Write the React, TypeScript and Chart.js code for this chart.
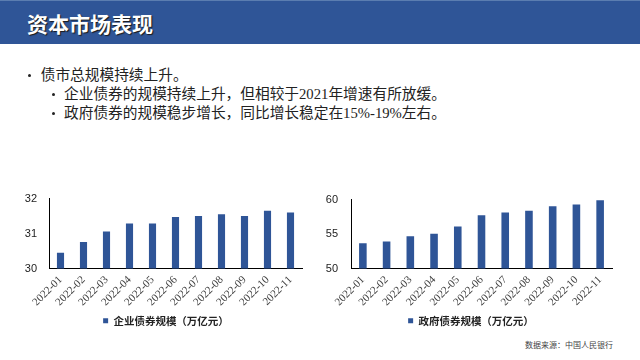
import React, { useEffect, useRef } from "react";
import { Chart, registerables } from "chart.js";

Chart.register(...registerables);

const months = ["2022-01", "2022-02", "2022-03", "2022-04", "2022-05", "2022-06", "2022-07", "2022-08", "2022-09", "2022-10", "2022-11"];
const corpBonds = [30.45, 30.76, 31.06, 31.29, 31.29, 31.47, 31.5, 31.55, 31.5, 31.65, 31.6];
const govBonds = [53.66, 53.91, 54.68, 55.06, 56.09, 57.74, 58.13, 58.38, 59.02, 59.28, 59.91];
const corpLabel = "企业债券规模（万亿元）";
const govLabel = "政府债券规模（万亿元）";
const corpTicks = [30, 31, 32];
const govTicks = [50, 55, 60];

const BAR = "#2F5597";
const CJK = '"Noto Sans CJK SC", sans-serif';

type BarProps = {
  labels: string[];
  values: number[];
  label: string;
  ticks: number[];
  padRight: number;
  yWidth: number;
  yPad: number;
  barPct: number;
  legendShift: number;
};

function BarChart(p: BarProps) {
  const ref = useRef<HTMLCanvasElement | null>(null);
  useEffect(() => {
    if (!ref.current) return;
    const shiftLegend = {
      id: "shiftLegend",
      afterLayout(chart: any) {
        const l = chart.legend;
        if (l) {
          l.left += p.legendShift;
          l.right += p.legendShift;
        }
      },
    };
    const chart = new Chart(ref.current, {
      type: "bar",
      data: {
        labels: p.labels,
        datasets: [
          {
            label: p.label,
            data: p.values,
            backgroundColor: BAR,
            borderWidth: 0,
            barPercentage: p.barPct,
            categoryPercentage: 1,
          },
        ],
      },
      plugins: [shiftLegend],
      options: {
        responsive: false,
        animation: false,
        devicePixelRatio: 1,
        layout: { padding: { left: 0, right: p.padRight, top: 9, bottom: 0 } },
        plugins: {
          tooltip: { enabled: false },
          legend: {
            position: "bottom",
            labels: {
              boxWidth: 5,
              boxHeight: 5,
              padding: 10,
              color: "#222",
              font: { family: CJK, size: 10.5, weight: "bold" },
            },
          },
        },
        scales: {
          x: {
            grid: { display: false, drawTicks: false },
            border: { display: true, color: "#000", width: 1 },
            ticks: {
              autoSkip: false,
              minRotation: 45,
              maxRotation: 45,
              padding: 5,
              color: "#404040",
              font: { family: '"Liberation Serif", serif', size: 11 },
            },
            afterFit: (s: any) => {
              s.height = 37;
            },
          },
          y: {
            min: p.ticks[0],
            max: p.ticks[p.ticks.length - 1],
            grid: { display: false, drawTicks: false },
            border: { display: true, color: "#000", width: 1 },
            ticks: {
              stepSize: p.ticks[1] - p.ticks[0],
              padding: p.yPad,
              color: "#222",
              font: { family: '"Liberation Sans", sans-serif', size: 11 },
            },
            afterFit: (s: any) => {
              s.width = p.yWidth;
            },
          },
        },
      },
    });
    return () => chart.destroy();
  }, []);
  return <canvas ref={ref} width={320} height={156} style={{ display: "block", width: 320, height: 156 }} />;
}

export default function App() {
  const bulletText: React.CSSProperties = {
    position: "absolute",
    fontFamily: '"Liberation Serif", "Noto Sans CJK SC", serif',
    fontSize: 14.7,
    lineHeight: "19px",
    color: "#222",
    whiteSpace: "nowrap",
  };
  const dot: React.CSSProperties = {
    position: "absolute",
    width: 3,
    height: 3,
    borderRadius: 2,
    background: "#222",
  };
  return (
    <div style={{ position: "absolute", left: 0, top: 0, width: 640, height: 360, background: "#fff", overflow: "hidden" }}>
      <div
        style={{
          position: "absolute",
          left: 0,
          top: 0,
          width: 640,
          height: 44,
          background: "#2F5597",
          borderTop: "1px solid #5B7DB0",
          boxSizing: "border-box",
        }}
      />
      <div
        style={{
          position: "absolute",
          left: 27,
          top: 9,
          fontFamily: CJK,
          fontWeight: "bold",
          fontSize: 21,
          lineHeight: "28px",
          color: "#fff",
          textShadow: "1px 1px 1px #1a1a1a",
          whiteSpace: "nowrap",
        }}
      >
        资本市场表现
      </div>

      <div style={{ ...dot, left: 28, top: 74 }} />
      <div style={{ ...bulletText, left: 40.7, top: 65.5 }}>债市总规模持续上升。</div>
      <div style={{ ...dot, left: 52, top: 93 }} />
      <div style={{ ...bulletText, left: 64, top: 84.5 }}>企业债券的规模持续上升，但相较于2021年增速有所放缓。</div>
      <div style={{ ...dot, left: 52, top: 112 }} />
      <div style={{ ...bulletText, left: 64, top: 103.5 }}>政府债券的规模稳步增长，同比增长稳定在15%-19%左右。</div>

      <div style={{ position: "absolute", left: 0, top: 180 }}>
        <BarChart labels={months} values={corpBonds} label={corpLabel} ticks={corpTicks} padRight={18} yWidth={49} yPad={12} barPct={0.31} legendShift={15} />
      </div>
      <div style={{ position: "absolute", left: 320, top: 180 }}>
        <BarChart labels={months} values={govBonds} label={govLabel} ticks={govTicks} padRight={28} yWidth={31} yPad={13} barPct={0.32} legendShift={5} />
      </div>

      <div
        style={{
          position: "absolute",
          left: 525,
          top: 339,
          fontFamily: CJK,
          fontSize: 8,
          lineHeight: "12px",
          color: "#444",
          whiteSpace: "nowrap",
        }}
      >
        数据来源：中国人民银行
      </div>
    </div>
  );
}
